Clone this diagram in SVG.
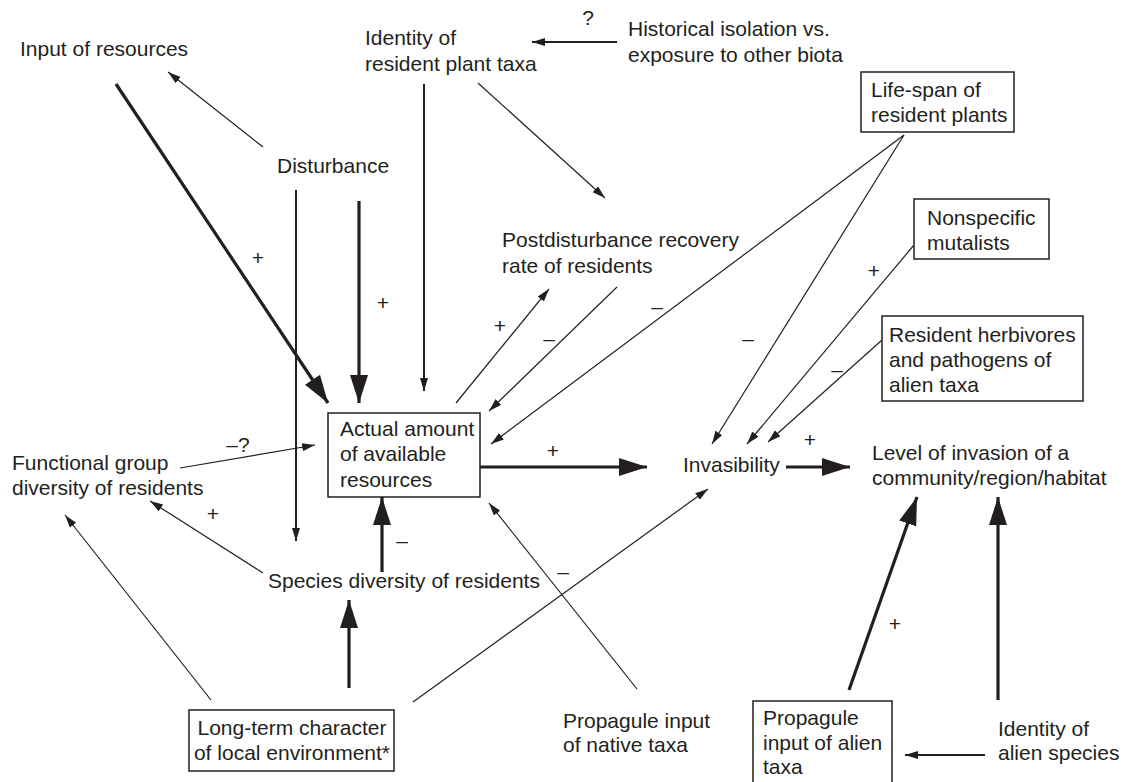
<svg xmlns="http://www.w3.org/2000/svg" width="1125" height="782" viewBox="0 0 1125 782">
<defs>
<style>
text{font-family:"Liberation Sans",Arial,sans-serif;font-size:21px;fill:#231f20}
.lbl{text-anchor:middle}
.box{fill:#fff;stroke:#231f20;stroke-width:1.5}
.thick{stroke:#231f20;stroke-width:3.2;fill:none;marker-end:url(#big)}
.med{stroke:#231f20;stroke-width:2;fill:none;marker-end:url(#small)}
.thin{stroke:#231f20;stroke-width:1.2;fill:none;marker-end:url(#small)}
</style>
<marker id="big" markerUnits="userSpaceOnUse" markerWidth="30" markerHeight="20" refX="28" refY="9" orient="auto"><path d="M0,0 L28,9 L0,18 z" fill="#231f20"/></marker>
<marker id="small" markerUnits="userSpaceOnUse" markerWidth="16" markerHeight="10" refX="13" refY="4" orient="auto"><path d="M0,0 L13,4 L0,8 z" fill="#231f20"/></marker>
</defs>
<rect width="1125" height="782" fill="#fff"/>
<g id="connectors">
<line class="thin" x1="263" y1="147" x2="168" y2="72"/>
<line class="thick" x1="116" y1="84" x2="328" y2="403"/>
<line class="med" x1="296" y1="190" x2="296" y2="541"/>
<line class="thick" x1="359" y1="201" x2="359" y2="403"/>
<line class="med" x1="424" y1="84" x2="424" y2="391"/>
<line class="thin" x1="478" y1="83" x2="605" y2="198"/>
<line class="med" x1="617" y1="42" x2="532" y2="42"/>
<line class="thin" x1="456" y1="403" x2="549" y2="289"/>
<line class="thin" x1="617" y1="287" x2="489" y2="411"/>
<line class="thin" x1="904" y1="135" x2="491" y2="444"/>
<line class="thin" x1="904" y1="135" x2="712" y2="444"/>
<line class="thin" x1="914" y1="245" x2="747" y2="444"/>
<line class="thin" x1="882" y1="340" x2="768" y2="442"/>
<line class="thick" x1="480" y1="467" x2="647" y2="467"/>
<line class="thick" x1="786" y1="467" x2="850" y2="467"/>
<line class="thin" x1="180" y1="468" x2="315" y2="445"/>
<line class="thin" x1="263" y1="573" x2="150" y2="501"/>
<line class="thick" x1="382" y1="572" x2="382" y2="497"/>
<line class="thick" x1="349" y1="688" x2="349" y2="600"/>
<line class="thin" x1="211" y1="700" x2="65" y2="515"/>
<line class="thin" x1="413" y1="702" x2="708" y2="489"/>
<line class="thin" x1="637" y1="689" x2="489" y2="503"/>
<line class="med" x1="985" y1="755" x2="905" y2="755"/>
<line class="thick" x1="998" y1="700" x2="998" y2="497"/>
<line class="thick" x1="849" y1="690" x2="917" y2="497"/>
</g>
<g id="labels">
<text class="lbl" x="588" y="25">?</text>
<text class="lbl" x="258" y="265">+</text>
<text class="lbl" x="383" y="310">+</text>
<text class="lbl" x="500" y="333">+</text>
<text class="lbl" x="549" y="346">–</text>
<text class="lbl" x="657" y="314">–</text>
<text class="lbl" x="748" y="346">–</text>
<text class="lbl" x="874" y="278">+</text>
<text class="lbl" x="837" y="377">–</text>
<text class="lbl" x="553" y="458">+</text>
<text class="lbl" x="810" y="447">+</text>
<text class="lbl" x="238" y="452">–?</text>
<text class="lbl" x="213" y="521">+</text>
<text class="lbl" x="402" y="548">–</text>
<text class="lbl" x="563" y="579">–</text>
<text class="lbl" x="895" y="631">+</text>
</g>
<g id="input-resources"><text x="20" y="56">Input of resources</text></g>
<g id="identity-resident"><text x="365" y="45">Identity of</text><text x="365" y="71">resident plant taxa</text></g>
<g id="historical"><text x="628" y="36">Historical isolation vs.</text><text x="628" y="62">exposure to other biota</text></g>
<g id="disturbance"><text x="277" y="173">Disturbance</text></g>
<g id="postdisturbance"><text x="502" y="247">Postdisturbance recovery</text><text x="502" y="273">rate of residents</text></g>
<g id="lifespan"><rect class="box" x="861" y="72" width="153" height="60"/><text x="871" y="97">Life-span of</text><text x="871" y="122">resident plants</text></g>
<g id="mutalists"><rect class="box" x="914" y="199" width="135" height="60"/><text x="927" y="225">Nonspecific</text><text x="927" y="250">mutalists</text></g>
<g id="herbivores"><rect class="box" x="882" y="316" width="201" height="85"/><text x="889" y="342">Resident herbivores</text><text x="889" y="367">and pathogens of</text><text x="889" y="392">alien taxa</text></g>
<g id="actual"><rect class="box" x="328" y="413" width="152" height="84"/><text x="340" y="436">Actual amount</text><text x="340" y="461">of available</text><text x="340" y="487">resources</text></g>
<g id="invasibility"><text x="683" y="472">Invasibility</text></g>
<g id="level"><text x="872" y="460">Level of invasion of a</text><text x="872" y="485">community/region/habitat</text></g>
<g id="functional"><text x="12" y="470">Functional group</text><text x="12" y="495">diversity of residents</text></g>
<g id="species"><text x="268" y="588">Species diversity of residents</text></g>
<g id="longterm"><rect class="box" x="189" y="710" width="205" height="61"/><text x="292" y="735" text-anchor="middle">Long-term character</text><text x="292" y="760" text-anchor="middle">of local environment*</text></g>
<g id="propagule-native"><text x="563" y="728">Propagule input</text><text x="563" y="752">of native taxa</text></g>
<g id="propagule-alien"><rect class="box" x="753" y="701" width="139" height="90"/><text x="763" y="725">Propagule</text><text x="763" y="750">input of alien</text><text x="763" y="774">taxa</text></g>
<g id="identity-alien"><text x="998" y="736">Identity of</text><text x="998" y="760">alien species</text></g>
</svg>
